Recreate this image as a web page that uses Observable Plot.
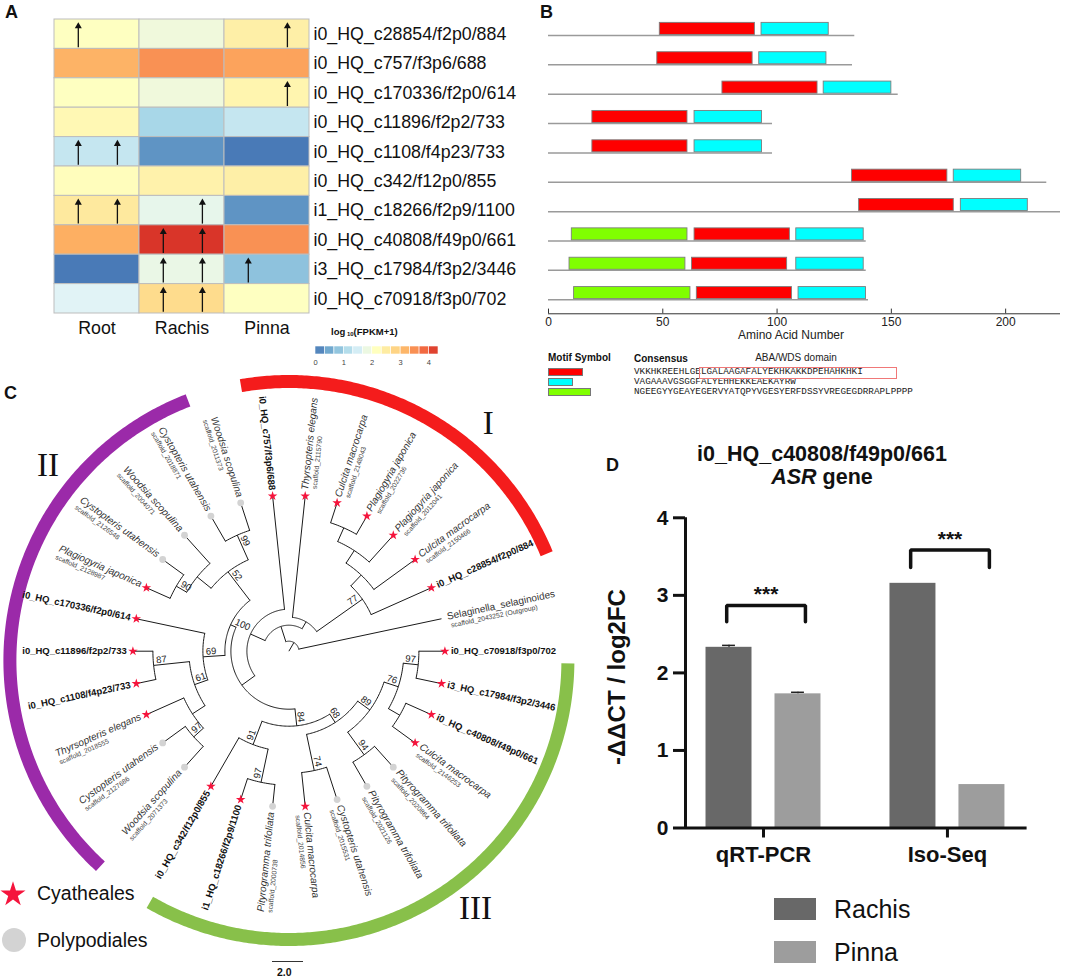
<!DOCTYPE html>
<html>
<head>
<meta charset="utf-8">
<script src="https://cdn.jsdelivr.net/npm/d3@7"></script>
<script src="https://cdn.jsdelivr.net/npm/@observablehq/plot@0.6"></script>
<style>
  html, body { margin: 0; padding: 0; background: #fff; }
  #fig { position: relative; width: 1065px; height: 978px; overflow: hidden; background: #fff;
         font-family: "Liberation Sans", Arial, Helvetica, sans-serif; color: #111; }
  #fig .abs { position: absolute; white-space: nowrap; }
  #fig svg { display: block; }
</style>
</head>
<body>
<div id="fig"></div>
<script>
const FONT = '"Liberation Sans", Arial, Helvetica, sans-serif';

// ---------------- Panel A data ----------------
const genes = ["i0_HQ_c28854/f2p0/884", "i0_HQ_c757/f3p6/688", "i0_HQ_c170336/f2p0/614", "i0_HQ_c11896/f2p2/733",
  "i0_HQ_c1108/f4p23/733", "i0_HQ_c342/f12p0/855", "i1_HQ_c18266/f2p9/1100", "i0_HQ_c40808/f49p0/661",
  "i3_HQ_c17984/f3p2/3446", "i0_HQ_c70918/f3p0/702"];
const tissues = ["Root", "Rachis", "Pinna"];
const rootLog   = [2.15, 3.2, 2.15, 2.3, 1.35, 2.2, 2.55, 3.25, 0.05, 1.65];
const rachisLog = [1.9, 3.5, 1.9, 1.05, 0.3, 2.4, 1.75, 4.3, 1.8, 2.75];
const pinnaLog  = [2.45, 3.35, 2.35, 1.35, 0.05, 2.45, 0.3, 3.5, 0.8, 2.15];
const arrowRow  = [0, 0, 2, 4, 4, 6, 6, 6, 7, 7, 8, 8, 8, 9, 9];
const arrowCol  = [0, 2, 2, 0, 0, 0, 0, 1, 1, 1, 1, 1, 2, 1, 1];
const arrowSlot = [0, 1, 1, 0, 1, 0, 1, 1, 0, 1, 0, 1, 0, 0, 1];
const colorStops = [0, 0.54, 1.08, 1.63, 2.17, 2.71, 3.26, 3.8, 4.34];
const colorRamp = ["#4575b4", "#74add1", "#abd9e9", "#e0f3f8", "#ffffbf", "#fee090", "#fdae61", "#f46d43", "#d73027"];
const legendTicks = [0, 1, 2, 3, 4];

// ---------------- Panel B data ----------------
const proteinLength = [134, 133, 153, 98, 98, 218, 224, 139, 139, 140];
const motif1Start = [48.7, 47.6, 76.1, 19.2, 19.2, 132.8, 135.9, 63.9, 62.8, 64.9];
const motif1End   = [90.3, 89.3, 117.7, 60.8, 60.8, 174.5, 177.3, 105.6, 104.4, 106.5];
const motif2Start = [93.2, 92.2, 120.4, 63.9, 63.9, 177.3, 180.4, 108.4, 108.4, 109.4];
const motif2End   = [122.6, 121.6, 150.0, 93.4, 93.4, 206.8, 209.7, 137.9, 137.9, 138.9];
const motif3Start = [null, null, null, null, null, null, null, 10.2, 9.2, 11.2];
const motif3End   = [null, null, null, null, null, null, null, 60.8, 59.9, 62.1];
const motifNames = ["motif1", "motif2", "motif3"];
const motifColors = ["#ff0000", "#00ffff", "#80ff00"];
const motifConsensus = ["VKKHKREEHLGELGALAAGAFALYEKHKAKKDPEHAHKHKI", "VAGAAAVGSGGFALYEHHEKKEAEKAYRW",
  "NGEEGYYGEAYEGERVYATQPYVGESYERFDSSYVREGEGDRRAPLPPPP"];
const domainStartChar = 12;
const aaTicks = [0, 50, 100, 150, 200];

// ---------------- Panel C data ----------------
const leafNames = ["i0_HQ_c70918/f3p0/702", "i3_HQ_c17984/f3p2/3446", "i0_HQ_c40808/f49p0/661", "Culcita macrocarpa",
  "Pityrogramma trifoliata", "Pityrogramma trifoliata", "Cystopteris utahensis", "Culcita macrocarpa",
  "Pityrogramma trifoliata", "i1_HQ_c18266/f2p9/1100", "i0_HQ_c342/f12p0/855", "Woodsia scopulina",
  "Cystopteris utahensis", "Thyrsopteris elegans", "i0_HQ_c1108/f4p23/733", "i0_HQ_c11896/f2p2/733",
  "i0_HQ_c170336/f2p0/614", "Plagiogyria japonica", "Cystopteris utahensis", "Woodsia scopulina",
  "Cystopteris utahensis", "Woodsia scopulina", "i0_HQ_c757/f3p6/688", "Thyrsopteris elegans",
  "Culcita macrocarpa", "Plagiogyria japonica", "Plagiogyria japonica", "Culcita macrocarpa",
  "i0_HQ_c28854/f2p0/884", "Selaginella_selaginoides"];
const leafScaffolds = ["", "", "", "scaffold_2146253", "scaffold_2020864", "scaffold_2021126", "scaffold_2015531",
  "scaffold_2014856", "scaffold_2000738", "", "", "scaffold_2071373", "scaffold_2127686", "scaffold_2018555",
  "", "", "", "scaffold_2128987", "scaffold_2126548", "scaffold_2004071", "scaffold_2018871", "scaffold_2011373",
  "", "scaffold_2115790", "scaffold_2148043", "scaffold_2022736", "scaffold_2012041", "scaffold_2150466", "",
  "scaffold_2043252 (Outgroup)"];
const leafOrders = ["Cyatheales", "Cyatheales", "Cyatheales", "Cyatheales", "Polypodiales", "Polypodiales",
  "Polypodiales", "Cyatheales", "Polypodiales", "Cyatheales", "Cyatheales", "Polypodiales", "Polypodiales",
  "Cyatheales", "Cyatheales", "Cyatheales", "Cyatheales", "Cyatheales", "Polypodiales", "Polypodiales",
  "Polypodiales", "Polypodiales", "Cyatheales", "Cyatheales", "Cyatheales", "Cyatheales", "Cyatheales",
  "Cyatheales", "Cyatheales", "Outgroup"];
const leafParents = ["n97a", "n97a", "nX", "nX", "n94", "n94", "n74", "n74", "n97b", "n97b", "n91", "n97c", "n97c",
  "nT", "n87", "n87", "n69", "n90", "n90", "nW", "n99", "n99", "n757", "nI", "nA", "nA", "nB", "nC", "n77", "root"];
const nodeIds     = ["root", "ING", "nI", "n77", "nC", "nB", "nA", "n757", "nCore", "n100", "n52", "nW", "n90", "n99",
  "n69", "n61", "n87", "nT", "n97c", "n84", "n91", "n97b", "n68", "n74", "n89", "n94", "n76", "nX", "n97a"];
const nodeParents = [null, "root", "ING", "nI", "n77", "nC", "nB", "ING", "n757", "nCore", "n100", "n52", "nW", "n52",
  "n100", "n69", "n61", "n61", "nT", "nCore", "n84", "n91", "n84", "n68", "n68", "n89", "n89", "n76", "n76"];
const nodeRadii   = [10, 26, 34, 90, 105, 120, 135, 42, 58, 64, 100, 118, 130, 127,
  86, 100, 136, 115, 128, 75, 100, 134, 85, 122, 100, 128, 115, 128, 130];
const nodeSupport = ["", "", "", "77", "", "", "", "", "", "100", "52", "", "90", "99",
  "69", "61", "87", "", "97", "84", "91", "97", "68", "74", "89", "94", "76", "", "97"];
const cladeNames  = ["I", "II", "III"];
const cladeStart  = [-9.9, 222.5, 90.6];
const cladeEnd    = [67.5, 338.8, 209.9];
const cladeColors = ["#f41c1c", "#9b2aa9", "#88c04a"];
const cladeLabelAngle = [40, 309, 143];
const orderNames = ["Cyatheales", "Polypodiales"];

// ---------------- Panel D data ----------------
const methods = ["qRT-PCR", "Iso-Seq"];
const exprTissues = ["Rachis", "Pinna"];
const rachisExpr = [2.33, 3.155];
const pinnaExpr  = [1.73, 0.56];
const rachisErr  = [0.025, 0];
const pinnaErr   = [0.02, 0];
const sigLabels  = ["***", "***"];
const bracketTop = [2.87, 3.585];
const bracketLeg = [2.66, 3.36];
const barColors  = ["#686868", "#9d9d9d"];

// ---------------- helpers ----------------
const fig = document.getElementById("fig");
function put(node, left, top, w, h) {
  const d = document.createElement("div");
  d.className = "abs";
  d.style.left = left + "px"; d.style.top = top + "px";
  if (w) { d.style.width = w + "px"; d.style.height = h + "px"; }
  d.appendChild(node); fig.appendChild(d); return d;
}
function label(html, left, top, css) {
  const d = document.createElement("div");
  d.className = "abs";
  d.style.cssText += `left:${left}px;top:${top}px;` + (css || "");
  d.innerHTML = html; fig.appendChild(d); return d;
}

// ================= Panel A =================
const cellsA = [];
[rootLog, rachisLog, pinnaLog].forEach((arr, j) => arr.forEach((v, i) => cellsA.push({row: i, col: j, v})));
const slotOffset = [0.28, 0.74];
const arrowsA = arrowRow.map((r, i) => ({row: r, x: arrowCol[i] + slotOffset[arrowSlot[i]]}));

const plotA = Plot.plot({
  width: 540, height: 340, margin: 0,
  x: {domain: [0, 3], range: [54, 309], axis: null},
  y: {domain: [0, 10], range: [19, 313], axis: null},
  color: {type: "linear", domain: colorStops, range: colorRamp, clamp: true},
  style: {fontFamily: FONT, background: "transparent", color: "#111"},
  marks: [
    Plot.rect(cellsA, {x1: "col", x2: d => d.col + 1, y1: "row", y2: d => d.row + 1, fill: "v", stroke: "#bdbdbd", strokeWidth: 1}),
    Plot.ruleX(arrowsA, {x: "x", y1: d => d.row + 0.96, y2: d => d.row + 0.25, stroke: "#111", strokeWidth: 1.3}),
    Plot.dot(arrowsA, {x: "x", y: d => d.row + 0.23, symbol: "triangle", r: 2.6, fill: "#111", stroke: "none"}),
    Plot.text(genes, {x: 3, y: (d, i) => i + 0.5, text: d => d, textAnchor: "start", dx: 4, fontSize: 17.8, fill: "#111"}),
    Plot.text(tissues, {x: (d, i) => i + 0.5, y: 10, dy: 15, text: d => d, fontSize: 17.8, fill: "#111"})
  ]
});
put(plotA, 0, 0, 540, 340);

// colour bar legend
const steps = d3.range(13).map(i => ({a: i * 4.34 / 13, b: (i + 1) * 4.34 / 13}));
const plotLeg = Plot.plot({
  width: 160, height: 34, margin: 0,
  x: {domain: [0, 4.34], range: [15, 138], axis: null},
  y: {domain: [0, 1], range: [8, 16], axis: null},
  color: {type: "linear", domain: colorStops, range: colorRamp, clamp: true},
  style: {fontFamily: FONT, background: "transparent", color: "#333"},
  marks: [
    Plot.rect(steps, {x1: "a", x2: "b", y1: 0, y2: 1, fill: d => (d.a + d.b) / 2, stroke: "#fff", strokeWidth: 0.6}),
    Plot.text(legendTicks, {x: d => d, y: 1, dy: 8, text: d => String(d), fontSize: 7.5, fill: "#444"})
  ]
});
put(plotLeg, 300, 338, 160, 34);
label('log<span style="font-size:6px;position:relative;top:1px"> 10</span>(FPKM+1)', 331, 326, "font-size:9.5px;font-weight:bold;");

// ================= Panel B =================
const protRows = proteinLength.map((len, i) => ({row: i, len}));
const motifs = [];
proteinLength.forEach((len, i) => {
  [[motif1Start, motif1End], [motif2Start, motif2End], [motif3Start, motif3End]].forEach(([s, e], m) => {
    if (s[i] != null) motifs.push({row: i, start: s[i], end: e[i], motif: motifNames[m]});
  });
});
const AXIS_Y = 9.48;
const plotB = Plot.plot({
  width: 525, height: 345, margin: 0,
  x: {domain: [0, 224], range: [8, 520], axis: null},
  y: {domain: [0, 9], range: [35, 299.2], axis: null},
  color: {domain: motifNames, range: motifColors},
  style: {fontFamily: FONT, background: "transparent", color: "#111"},
  marks: [
    Plot.ruleY(protRows, {y: "row", x1: 0, x2: "len", stroke: "#9a9a9a", strokeWidth: 1.5}),
    Plot.rect(motifs, {x1: "start", x2: "end", y1: d => d.row - 0.43, y2: d => d.row - 0.02, fill: "motif", stroke: "#7d7d7d", strokeWidth: 0.9}),
    Plot.ruleY([AXIS_Y], {x1: 0, x2: 224, stroke: "#333", strokeWidth: 1}),
    Plot.ruleX(aaTicks, {x: d => d, y1: AXIS_Y - 0.16, y2: AXIS_Y, stroke: "#333", strokeWidth: 1}),
    Plot.text(aaTicks, {x: d => d, y: AXIS_Y, dy: 8, text: d => String(d), fontSize: 12, fill: "#222"})
  ]
});
put(plotB, 540, 0, 525, 345);
label("Amino Acid Number", 738, 329, "font-size:12px;line-height:12px;width:100px;text-align:center;color:#222;");
// motif legend
label("Motif Symbol", 548, 352, "font-size:10px;font-weight:bold;");
label("Consensus", 634, 353, "font-size:10px;font-weight:bold;");
label("ABA/WDS domain", 746, 352, "font-size:10px;width:100px;text-align:center;color:#222;");
const seqTops = [367, 377, 387];
motifConsensus.forEach((seq, m) => {
  label("", 548, seqTops[m] + 1, `width:${(seq.length * 0.85).toFixed(1)}px;height:8px;background:${motifColors[m]};border:1px solid #777;box-sizing:border-box;`);
  label(seq, 634, seqTops[m], 'font-family:"Liberation Mono","Courier New",monospace;font-size:9.3px;line-height:10px;color:#222;');
});
label("", 634 + domainStartChar * 5.58 - 2, 367, "width:198px;height:12px;border:1px solid #f07878;box-sizing:border-box;");

// ================= Panel C =================
const TIP_R = 156, FIRST_ANGLE = 90, STEP = 12;
const RING_R = 279, RING_DY = 9.3, RING_W = 13;
function pol(r, a) { const t = a * Math.PI / 180; return [r * Math.sin(t), -r * Math.cos(t)]; }
function polOff(r, a, perp, right) {
  const t = a * Math.PI / 180; const [x, y] = pol(r, a);
  const s = right ? 1 : -1;
  return [x + perp * s * Math.cos(t), y + perp * s * Math.sin(t)];
}
const nodes = new Map();
nodeIds.forEach((id, i) => nodes.set(id, {id, parent: nodeParents[i], r: nodeRadii[i], support: nodeSupport[i], children: [], leaf: false}));
const leaves = leafNames.map((name, k) => ({id: "leaf" + k, k, name, scaffold: leafScaffolds[k], order: leafOrders[k],
  parent: leafParents[k], r: TIP_R, angle: FIRST_ANGLE + STEP * k, leaf: true, children: []}));
leaves.forEach(l => nodes.set(l.id, l));
for (const n of nodes.values()) if (n.parent) nodes.get(n.parent).children.push(n);
function setAngle(n) {
  if (n.leaf) return n.angle;
  const as = n.children.map(setAngle);
  n.lo = Math.min(...as); n.hi = Math.max(...as); n.angle = (n.lo + n.hi) / 2;
  return n.angle;
}
setAngle(nodes.get("root"));
const segs = [], arcPts = [];
for (const n of nodes.values()) {
  const r0 = n.parent ? nodes.get(n.parent).r : 0;
  const [x1, y1] = pol(r0, n.angle), [x2, y2] = pol(n.r, n.angle);
  segs.push({x1, y1, x2, y2});
  if (!n.leaf) {
    const as = d3.range(n.lo, n.hi, 1).concat([n.hi]);
    as.forEach(a => { const [x, y] = pol(n.r, a); arcPts.push({id: n.id, x, y}); });
  }
}
const ringPts = [];
cladeNames.forEach((c, i) => {
  d3.range(cladeStart[i], cladeEnd[i], 0.5).concat([cladeEnd[i]]).forEach(a => {
    const [x, y] = pol(RING_R, a); ringPts.push({clade: c, x, y: y + RING_DY});
  });
});
const cladeLabels = cladeNames.map((c, i) => { const [x, y] = pol(310, cladeLabelAngle[i]); return {c, x, y: y + RING_DY}; });

const ctx = document.createElement("canvas").getContext("2d");
function textW(t, font) { ctx.font = font; return ctx.measureText(t).width; }
const isRight = a => ((a % 360) + 360) % 360 < 180;
const rotOf = a => { const m = ((a % 360) + 360) % 360; return m < 180 ? m - 90 : m - 270; };
const LAB_R = 162;
const hqLabels = [], nameLabels = [], scafLabels = [], outLabels = [];
leaves.forEach(l => {
  const right = isRight(l.angle), rot = rotOf(l.angle);
  if (l.name.includes("_HQ_")) {
    const [x, y] = pol(LAB_R, l.angle);
    hqLabels.push({x, y, rot, right, text: l.name});
  } else {
    const isOut = l.order === "Outgroup";
    const nameFont = (isOut ? "" : "italic ") + "10px " + FONT;
    const nw = textW(l.name, nameFont), sw = textW(l.scaffold, "6.8px " + FONT);
    const [nx, ny] = polOff(LAB_R, l.angle, -1, right);
    const sr = right ? LAB_R + 2 : LAB_R + nw - sw;
    const [sx, sy] = polOff(sr, l.angle, 8.5, right);
    (isOut ? outLabels : nameLabels).push({x: nx, y: ny, rot, right, text: l.name});
    scafLabels.push({x: sx, y: sy, rot, right, text: l.scaffold});
  }
});
const bootLabels = [];
for (const n of nodes.values()) {
  if (!n.leaf && n.support) {
    const right = isRight(n.angle);
    const [x, y] = polOff(n.r - 3, n.angle, -5, right);
    bootLabels.push({x, y, rot: rotOf(n.angle), right, text: n.support});
  }
}
const textSet = (data, right, opts) => Plot.text(data.filter(d => d.right === right),
  {x: "x", y: "y", text: "text", rotate: "rot", textAnchor: right ? "start" : "end", ...opts});
const bootSet = (right) => Plot.text(bootLabels.filter(d => d.right === right),
  {x: "x", y: "y", text: "text", rotate: "rot", textAnchor: right ? "end" : "start", fontSize: 9.5, fill: "#222"});

const plotC = Plot.plot({
  width: 600, height: 608, margin: 0,
  x: {domain: [-288.4, 311.6], range: [0, 600], axis: null},
  y: {domain: [-280.7, 327.3], range: [0, 608], axis: null},
  color: {domain: cladeNames, range: cladeColors},
  style: {fontFamily: FONT, background: "transparent", color: "#111"},
  marks: [
    Plot.line(ringPts, {x: "x", y: "y", z: "clade", stroke: "clade", strokeWidth: RING_W, strokeLinecap: "butt"}),
    Plot.text(cladeLabels, {x: "x", y: "y", text: "c", fontFamily: '"Liberation Serif", "Times New Roman", serif', fontSize: 33, fill: "#111"}),
    Plot.line(arcPts, {x: "x", y: "y", z: "id", stroke: "#1a1a1a", strokeWidth: 1}),
    Plot.link(segs, {x1: "x1", y1: "y1", x2: "x2", y2: "y2", stroke: "#1a1a1a", strokeWidth: 1}),
    Plot.dot(leaves.filter(l => l.order === "Polypodiales"), {x: l => pol(l.r, l.angle)[0], y: l => pol(l.r, l.angle)[1], r: 3.4, fill: "#d3d3d3", stroke: "none"}),
    Plot.dot(leaves.filter(l => l.order === "Cyatheales"), {x: l => pol(l.r, l.angle)[0], y: l => pol(l.r, l.angle)[1], symbol: "star", r: 3, fill: "#f5143c", stroke: "none"}),
    textSet(hqLabels, true, {fontSize: 9.5, fontWeight: "bold", fill: "#111"}),
    textSet(hqLabels, false, {fontSize: 9.5, fontWeight: "bold", fill: "#111"}),
    textSet(nameLabels, true, {fontSize: 10, fontStyle: "italic", fill: "#333"}),
    textSet(nameLabels, false, {fontSize: 10, fontStyle: "italic", fill: "#333"}),
    textSet(outLabels, true, {fontSize: 10, fill: "#333"}),
    textSet(scafLabels, true, {fontSize: 6.8, fill: "#444"}),
    textSet(scafLabels, false, {fontSize: 6.8, fill: "#444"}),
    bootSet(true), bootSet(false)
  ]
});
put(plotC, 0, 370, 600, 608);

// legend of panel C
function symbolSvg(path, size, fill, dy) {
  const ns = "http://www.w3.org/2000/svg";
  const s = document.createElementNS(ns, "svg");
  s.setAttribute("width", size); s.setAttribute("height", size);
  const p = document.createElementNS(ns, "path");
  p.setAttribute("d", path); p.setAttribute("fill", fill);
  p.setAttribute("transform", `translate(${size / 2},${size / 2 + dy})`);
  s.appendChild(p); return s;
}
put(symbolSvg(d3.symbol(d3.symbolStar, 195)(), 30, "#f5143c", 1.5), -2, 878);
put(symbolSvg(d3.symbol(d3.symbolCircle, Math.PI * 12 * 12)(), 30, "#d3d3d3", 0), -1, 925);
label(orderNames[0], 37, 881, "font-size:19.5px;line-height:24px;");
label(orderNames[1], 37, 928, "font-size:19.5px;line-height:24px;");
label("", 272, 961, "width:31px;height:0;border-top:1.5px solid #333;");
label("2.0", 277, 966, "font-size:10.5px;font-weight:bold;");

// ================= Panel D =================
const bars = [];
methods.forEach((m, g) => {
  bars.push({g, tissue: exprTissues[0], v: rachisExpr[g], err: rachisErr[g], c: g - 0.1875});
  bars.push({g, tissue: exprTissues[1], v: pinnaExpr[g], err: pinnaErr[g], c: g + 0.1875});
});
const BR_L = -0.2, BR_R = 0.228;
const bracketPts = [];
methods.forEach((m, g) => {
  bracketPts.push({g, x: g + BR_L, y: bracketLeg[g]}, {g, x: g + BR_L, y: bracketTop[g]},
                  {g, x: g + BR_R, y: bracketTop[g]}, {g, x: g + BR_R, y: bracketLeg[g]});
});
const sigs = methods.map((m, g) => ({g, y: bracketTop[g], text: sigLabels[g]}));
const errBars = bars.filter(d => d.err > 0);
const plotD = Plot.plot({
  width: 440, height: 380, marginLeft: 85, marginRight: 13.4, marginTop: 17.3, marginBottom: 52.5,
  x: {domain: [-0.424, 1.433]},
  y: {domain: [0, 4]},
  color: {domain: exprTissues, range: barColors},
  style: {fontFamily: FONT, background: "transparent", color: "#111"},
  marks: [
    Plot.rect(bars, {x1: d => d.c - 0.125, x2: d => d.c + 0.125, y1: 0, y2: "v", fill: "tissue"}),
    Plot.ruleX(errBars, {x: "c", y1: "v", y2: d => d.v + d.err, stroke: "#222", strokeWidth: 1.5}),
    Plot.ruleY(errBars, {y: d => d.v + d.err, x1: d => d.c - 0.035, x2: d => d.c + 0.035, stroke: "#222", strokeWidth: 1.5}),
    Plot.line(bracketPts, {x: "x", y: "y", z: "g", stroke: "#111", strokeWidth: 3.5, strokeLinecap: "round", strokeLinejoin: "miter"}),
    Plot.text(sigs, {x: d => d.g + (BR_L + BR_R) / 2, y: "y", text: "text", lineAnchor: "bottom", dy: -4, fontSize: 21, fontWeight: "bold", fill: "#111"}),
    Plot.ruleY([0], {stroke: "#111", strokeWidth: 3}),
    Plot.ruleX([-0.424], {y1: 0, y2: 4, stroke: "#111", strokeWidth: 3}),
    Plot.axisY({ticks: [0, 1, 2, 3, 4], tickFormat: d => String(d), tickSize: 12, tickPadding: 5, fontSize: 21, fontWeight: "bold", strokeWidth: 3, label: null}),
    Plot.axisX({ticks: [0, 1], tickFormat: i => methods[i], tickSize: 10, tickPadding: 8, fontSize: 22, fontWeight: "bold", strokeWidth: 3, label: null})
  ]
});
put(plotD, 600, 500, 440, 380);
label('i0_HQ_c40808/f49p0/661<br><i>ASR</i> gene', 600, 443, "width:444px;text-align:center;font-size:21.5px;line-height:23px;font-weight:bold;");
label("-ΔΔCT / log2FC", 517, 663, "width:200px;height:28px;line-height:28px;text-align:center;font-size:24px;font-weight:bold;transform:rotate(-90deg);");
exprTissues.forEach((t, i) => {
  label("", 774, 898 + i * 43, `width:42px;height:22px;background:${barColors[i]};`);
  label(t, 834, 894 + i * 43, "font-size:25px;line-height:30px;");
});

// panel letters
label("A", 5, 2, "font-size:18px;font-weight:bold;");
label("B", 540, 2, "font-size:18px;font-weight:bold;");
label("C", 4, 383, "font-size:18px;font-weight:bold;");
label("D", 606, 455, "font-size:18px;font-weight:bold;");
</script>
</body>
</html>
